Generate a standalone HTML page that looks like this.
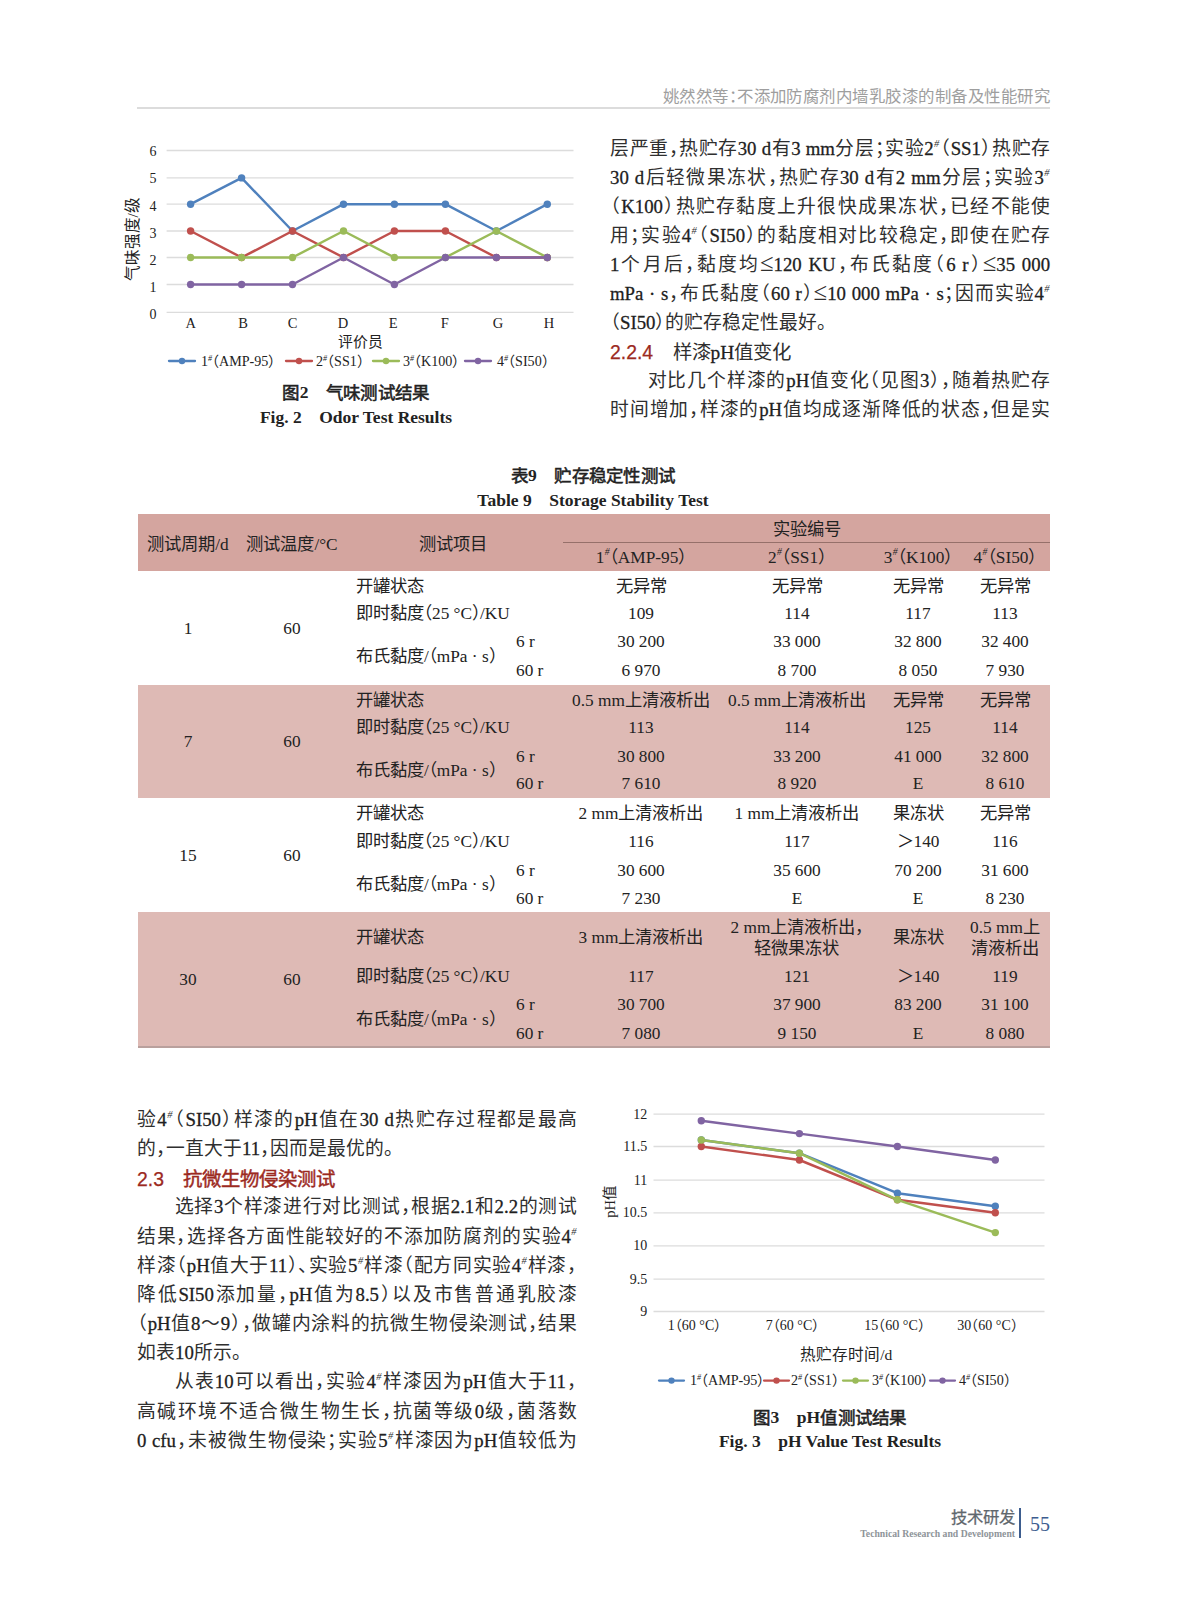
<!DOCTYPE html>
<html lang="zh-CN">
<head>
<meta charset="utf-8">
<title>page</title>
<style>
html,body{margin:0;padding:0;background:#fff;}
body{width:1187px;height:1600px;position:relative;overflow:hidden;font-family:"Liberation Serif",serif;color:#2f2f2f;font-feature-settings:"halt" 1;}
.ln{position:absolute;width:440px;height:29px;line-height:29px;font-size:18.8px;white-space:nowrap;text-align:justify;text-align-last:justify;}
.ln.e{text-align:left;text-align-last:left;}
.ln.i{text-indent:2em;}
sup{font-size:0.56em;line-height:0;vertical-align:0.75em;font-style:italic;margin:0 0.04em;}
.la{color:#202020;-webkit-text-stroke:0.28px #202020;}
.red .la,.red.la{color:#9c2a1f;-webkit-text-stroke:0.25px #9c2a1f;}
.le{font-size:1.32em;line-height:0;position:relative;top:0.03em;}
.hd{position:absolute;font-family:"Liberation Sans",sans-serif;font-size:16.45px;color:#9e9e9e;white-space:nowrap;letter-spacing:0.47px;}
.red{color:#9c2a1f;font-family:"Liberation Sans",sans-serif;}
.h2{font-size:19.4px;}
.sb{-webkit-text-stroke:0.45px #9c2a1f;}
.cap{position:absolute;text-align:center;font-weight:bold;white-space:nowrap;font-size:17.5px;line-height:24px;color:#222;}
.cap .cn{font-family:"Liberation Sans",sans-serif;position:relative;top:1px;font-weight:normal;-webkit-text-stroke:0.55px #222;letter-spacing:0.3px;}
.t{position:absolute;font-size:17.3px;line-height:24px;height:24px;white-space:nowrap;color:#222;}
.c{text-align:center;transform:translateX(-50%);}
.bg{position:absolute;left:138px;width:912px;}
svg{position:absolute;left:0;top:0;}
svg text{font-family:"Liberation Serif",serif;fill:#222;}
</style>
</head>
<body>
<div class="hd" style="right:137px;top:85px;line-height:22px;">姚然然等：不添加防腐剂内墙乳胶漆的制备及性能研究</div>
<div style="position:absolute;left:137px;top:107px;width:913px;height:2px;background:#dcdcdc;"></div>
<div class="ln " style="left:610px;top:133.5px;">层严重，热贮存<span class="la">30 d</span>有<span class="la">3 mm</span>分层；实验<span class="la">2</span><sup>#</sup>（<span class="la">SS1</span>）热贮存</div>
<div class="ln " style="left:610px;top:162.5px;"><span class="la">30 d</span>后轻微果冻状，热贮存<span class="la">30 d</span>有<span class="la">2 mm</span>分层；实验<span class="la">3</span><sup>#</sup></div>
<div class="ln " style="left:610px;top:191.5px;">（<span class="la">K100</span>）热贮存黏度上升很快成果冻状，已经不能使</div>
<div class="ln " style="left:610px;top:220.5px;">用；实验<span class="la">4</span><sup>#</sup>（<span class="la">SI50</span>）的黏度相对比较稳定，即使在贮存</div>
<div class="ln " style="left:610px;top:249.5px;"><span class="la">1</span>个月后，黏度均<span class="le">≤</span><span class="la">120 KU</span>，布氏黏度（<span class="la">6 r</span>）<span class="le">≤</span><span class="la">35 000</span></div>
<div class="ln " style="left:610px;top:278.5px;"><span class="la">mPa · s</span>，布氏黏度（<span class="la">60 r</span>）<span class="le">≤</span><span class="la">10 000 mPa · s</span>；因而实验<span class="la">4</span><sup>#</sup></div>
<div class="ln e" style="left:610px;top:307.5px;">（<span class="la">SI50</span>）的贮存稳定性最好。</div>
<div class="ln e" style="left:610px;top:337.5px;"><span class="h2"><span class="red"><span class="la">2.2.4</span></span>&emsp;样漆<span class="la">pH</span>值变化</span></div>
<div class="ln i" style="left:610px;top:365.5px;">对比几个样漆的<span class="la">pH</span>值变化（见图<span class="la">3</span>），随着热贮存</div>
<div class="ln " style="left:610px;top:394.5px;">时间增加，样漆的<span class="la">pH</span>值均成逐渐降低的状态，但是实</div>
<div class="ln " style="left:137px;top:1104.5px;">验<span class="la">4</span><sup>#</sup>（<span class="la">SI50</span>）样漆的<span class="la">pH</span>值在<span class="la">30 d</span>热贮存过程都是最高</div>
<div class="ln e" style="left:137px;top:1133.5px;">的，一直大于<span class="la">11</span>，因而是最优的。</div>
<div class="ln e" style="left:137px;top:1164.5px;"><span class="red h2"><span class="la">2.3</span>&emsp;<span class="sb">抗微生物侵染测试</span></span></div>
<div class="ln i" style="left:137px;top:1192.0px;">选择<span class="la">3</span>个样漆进行对比测试，根据<span class="la">2.1</span>和<span class="la">2.2</span>的测试</div>
<div class="ln " style="left:137px;top:1221.5px;">结果，选择各方面性能较好的不添加防腐剂的实验<span class="la">4</span><sup>#</sup></div>
<div class="ln " style="left:137px;top:1250.5px;">样漆（<span class="la">pH</span>值大于<span class="la">11</span>）、实验<span class="la">5</span><sup>#</sup>样漆（配方同实验<span class="la">4</span><sup>#</sup>样漆，</div>
<div class="ln " style="left:137px;top:1279.5px;">降低<span class="la">SI50</span>添加量，<span class="la">pH</span>值为<span class="la">8.5</span>）以及市售普通乳胶漆</div>
<div class="ln " style="left:137px;top:1308.5px;">（<span class="la">pH</span>值<span class="la">8</span>～<span class="la">9</span>），做罐内涂料的抗微生物侵染测试，结果</div>
<div class="ln e" style="left:137px;top:1337.5px;">如表<span class="la">10</span>所示。</div>
<div class="ln i" style="left:137px;top:1367.0px;">从表<span class="la">10</span>可以看出，实验<span class="la">4</span><sup>#</sup>样漆因为<span class="la">pH</span>值大于<span class="la">11</span>，</div>
<div class="ln " style="left:137px;top:1396.5px;">高碱环境不适合微生物生长，抗菌等级<span class="la">0</span>级，菌落数</div>
<div class="ln " style="left:137px;top:1425.5px;"><span class="la">0 cfu</span>，未被微生物侵染；实验<span class="la">5</span><sup>#</sup>样漆因为<span class="la">pH</span>值较低为</div>
<div class="cap" style="left:156px;width:400px;top:380.0px;"><span class="cn">图</span>2&emsp;<span class="cn">气味测试结果</span></div>
<div class="cap" style="left:156px;width:400px;top:405.0px;">Fig. 2&emsp;Odor Test Results</div>
<div class="cap" style="left:393px;width:400px;top:463.0px;"><span class="cn">表</span>9&emsp;<span class="cn">贮存稳定性测试</span></div>
<div class="cap" style="left:393px;width:400px;top:488.0px;">Table 9&emsp;Storage Stability Test</div>
<div class="cap" style="left:630px;width:400px;top:1405.0px;"><span class="cn">图</span>3&emsp;pH<span class="cn">值测试结果</span></div>
<div class="cap" style="left:630px;width:400px;top:1429.0px;">Fig. 3&emsp;pH Value Test Results</div>
<div class="bg" style="top:514px;height:57px;background:#d4a59f;"></div>
<div class="bg" style="top:685px;height:113px;background:#debab5;"></div>
<div class="bg" style="top:912px;height:135px;background:#debab5;"></div>
<div class="bg" style="top:1046px;height:2px;background:#b9a09d;"></div>
<div style="position:absolute;left:563px;top:542px;width:487px;height:1px;background:#96706a;"></div>
<div class="t c" style="left:188.0px;top:532.7px;">测试周期/d</div>
<div class="t c" style="left:292.0px;top:532.7px;">测试温度/°C</div>
<div class="t c" style="left:453.0px;top:532.7px;">测试项目</div>
<div class="t c" style="left:807.0px;top:517.7px;">实验编号</div>
<div class="t c" style="left:641.0px;top:545.6px;">1<sup>#</sup>（AMP-95）</div>
<div class="t c" style="left:797.0px;top:545.6px;">2<sup>#</sup>（SS1）</div>
<div class="t c" style="left:918.0px;top:545.6px;">3<sup>#</sup>（K100）</div>
<div class="t c" style="left:1005.0px;top:545.6px;">4<sup>#</sup>（SI50）</div>
<div class="t c" style="left:188.0px;top:616.9px;">1</div>
<div class="t c" style="left:292.0px;top:616.9px;">60</div>
<div class="t" style="left:356.0px;top:575.0px;">开罐状态</div>
<div class="t" style="left:356.0px;top:601.9px;">即时黏度（25 °C）/KU</div>
<div class="t" style="left:356.0px;top:644.9px;">布氏黏度/（mPa · s）</div>
<div class="t" style="left:516.0px;top:630.0px;">6 r</div>
<div class="t" style="left:516.0px;top:658.7px;">60 r</div>
<div class="t c" style="left:641.0px;top:575.0px;">无异常</div>
<div class="t c" style="left:797.0px;top:575.0px;">无异常</div>
<div class="t c" style="left:918.0px;top:575.0px;">无异常</div>
<div class="t c" style="left:1005.0px;top:575.0px;">无异常</div>
<div class="t c" style="left:641.0px;top:601.9px;">109</div>
<div class="t c" style="left:797.0px;top:601.9px;">114</div>
<div class="t c" style="left:918.0px;top:601.9px;">117</div>
<div class="t c" style="left:1005.0px;top:601.9px;">113</div>
<div class="t c" style="left:641.0px;top:630.0px;">30 200</div>
<div class="t c" style="left:797.0px;top:630.0px;">33 000</div>
<div class="t c" style="left:918.0px;top:630.0px;">32 800</div>
<div class="t c" style="left:1005.0px;top:630.0px;">32 400</div>
<div class="t c" style="left:641.0px;top:658.7px;">6 970</div>
<div class="t c" style="left:797.0px;top:658.7px;">8 700</div>
<div class="t c" style="left:918.0px;top:658.7px;">8 050</div>
<div class="t c" style="left:1005.0px;top:658.7px;">7 930</div>
<div class="t c" style="left:188.0px;top:730.4px;">7</div>
<div class="t c" style="left:292.0px;top:730.4px;">60</div>
<div class="t" style="left:356.0px;top:688.5px;">开罐状态</div>
<div class="t" style="left:356.0px;top:715.9px;">即时黏度（25 °C）/KU</div>
<div class="t" style="left:356.0px;top:759.0px;">布氏黏度/（mPa · s）</div>
<div class="t" style="left:516.0px;top:744.6px;">6 r</div>
<div class="t" style="left:516.0px;top:772.4px;">60 r</div>
<div class="t c" style="left:641.0px;top:688.5px;">0.5 mm上清液析出</div>
<div class="t c" style="left:797.0px;top:688.5px;">0.5 mm上清液析出</div>
<div class="t c" style="left:918.0px;top:688.5px;">无异常</div>
<div class="t c" style="left:1005.0px;top:688.5px;">无异常</div>
<div class="t c" style="left:641.0px;top:715.9px;">113</div>
<div class="t c" style="left:797.0px;top:715.9px;">114</div>
<div class="t c" style="left:918.0px;top:715.9px;">125</div>
<div class="t c" style="left:1005.0px;top:715.9px;">114</div>
<div class="t c" style="left:641.0px;top:744.6px;">30 800</div>
<div class="t c" style="left:797.0px;top:744.6px;">33 200</div>
<div class="t c" style="left:918.0px;top:744.6px;">41 000</div>
<div class="t c" style="left:1005.0px;top:744.6px;">32 800</div>
<div class="t c" style="left:641.0px;top:772.4px;">7 610</div>
<div class="t c" style="left:797.0px;top:772.4px;">8 920</div>
<div class="t c" style="left:918.0px;top:772.4px;">E</div>
<div class="t c" style="left:1005.0px;top:772.4px;">8 610</div>
<div class="t c" style="left:188.0px;top:844.4px;">15</div>
<div class="t c" style="left:292.0px;top:844.4px;">60</div>
<div class="t" style="left:356.0px;top:802.2px;">开罐状态</div>
<div class="t" style="left:356.0px;top:829.6px;">即时黏度（25 °C）/KU</div>
<div class="t" style="left:356.0px;top:873.1px;">布氏黏度/（mPa · s）</div>
<div class="t" style="left:516.0px;top:858.6px;">6 r</div>
<div class="t" style="left:516.0px;top:886.5px;">60 r</div>
<div class="t c" style="left:641.0px;top:802.2px;">2 mm上清液析出</div>
<div class="t c" style="left:797.0px;top:802.2px;">1 mm上清液析出</div>
<div class="t c" style="left:918.0px;top:802.2px;">果冻状</div>
<div class="t c" style="left:1005.0px;top:802.2px;">无异常</div>
<div class="t c" style="left:641.0px;top:829.6px;">116</div>
<div class="t c" style="left:797.0px;top:829.6px;">117</div>
<div class="t c" style="left:918.0px;top:829.6px;">＞140</div>
<div class="t c" style="left:1005.0px;top:829.6px;">116</div>
<div class="t c" style="left:641.0px;top:858.6px;">30 600</div>
<div class="t c" style="left:797.0px;top:858.6px;">35 600</div>
<div class="t c" style="left:918.0px;top:858.6px;">70 200</div>
<div class="t c" style="left:1005.0px;top:858.6px;">31 600</div>
<div class="t c" style="left:641.0px;top:886.5px;">7 230</div>
<div class="t c" style="left:797.0px;top:886.5px;">E</div>
<div class="t c" style="left:918.0px;top:886.5px;">E</div>
<div class="t c" style="left:1005.0px;top:886.5px;">8 230</div>
<div class="t c" style="left:188.0px;top:968.4px;">30</div>
<div class="t c" style="left:292.0px;top:968.4px;">60</div>
<div class="t" style="left:356.0px;top:926.3px;">开罐状态</div>
<div class="t" style="left:356.0px;top:965.4px;">即时黏度（25 °C）/KU</div>
<div class="t" style="left:356.0px;top:1008.0px;">布氏黏度/（mPa · s）</div>
<div class="t" style="left:516.0px;top:993.2px;">6 r</div>
<div class="t" style="left:516.0px;top:1021.8px;">60 r</div>
<div class="t c" style="left:641.0px;top:926.3px;">3 mm上清液析出</div>
<div class="t c" style="left:797.0px;top:917.2px;height:auto;line-height:21px;">2 mm上清液析出，<br>轻微果冻状</div>
<div class="t c" style="left:918.0px;top:926.3px;">果冻状</div>
<div class="t c" style="left:1005.0px;top:917.2px;height:auto;line-height:21px;">0.5 mm上<br>清液析出</div>
<div class="t c" style="left:641.0px;top:965.4px;">117</div>
<div class="t c" style="left:797.0px;top:965.4px;">121</div>
<div class="t c" style="left:918.0px;top:965.4px;">＞140</div>
<div class="t c" style="left:1005.0px;top:965.4px;">119</div>
<div class="t c" style="left:641.0px;top:993.2px;">30 700</div>
<div class="t c" style="left:797.0px;top:993.2px;">37 900</div>
<div class="t c" style="left:918.0px;top:993.2px;">83 200</div>
<div class="t c" style="left:1005.0px;top:993.2px;">31 100</div>
<div class="t c" style="left:641.0px;top:1021.8px;">7 080</div>
<div class="t c" style="left:797.0px;top:1021.8px;">9 150</div>
<div class="t c" style="left:918.0px;top:1021.8px;">E</div>
<div class="t c" style="left:1005.0px;top:1021.8px;">8 080</div>
<svg width="1187" height="1600" viewBox="0 0 1187 1600">
<line x1="166.6" x2="573.5" y1="312.3" y2="312.3" stroke="#dcdcdc" stroke-width="1.3"/>
<text x="153" y="319.2" font-size="14" text-anchor="middle">0</text>
<line x1="166.6" x2="573.5" y1="284.5" y2="284.5" stroke="#dcdcdc" stroke-width="1.3"/>
<text x="153" y="292.0" font-size="14" text-anchor="middle">1</text>
<line x1="166.6" x2="573.5" y1="257.5" y2="257.5" stroke="#dcdcdc" stroke-width="1.3"/>
<text x="153" y="264.8" font-size="14" text-anchor="middle">2</text>
<line x1="166.6" x2="573.5" y1="231.0" y2="231.0" stroke="#dcdcdc" stroke-width="1.3"/>
<text x="153" y="237.7" font-size="14" text-anchor="middle">3</text>
<line x1="166.6" x2="573.5" y1="204.2" y2="204.2" stroke="#dcdcdc" stroke-width="1.3"/>
<text x="153" y="210.5" font-size="14" text-anchor="middle">4</text>
<line x1="166.6" x2="573.5" y1="177.9" y2="177.9" stroke="#dcdcdc" stroke-width="1.3"/>
<text x="153" y="183.3" font-size="14" text-anchor="middle">5</text>
<line x1="166.6" x2="573.5" y1="150.5" y2="150.5" stroke="#dcdcdc" stroke-width="1.3"/>
<text x="153" y="156.1" font-size="14" text-anchor="middle">6</text>
<polyline points="190.6,204.2 241.6,177.9 292.5,231.0 343.5,204.2 394.4,204.2 445.4,204.2 496.4,231.0 547.3,204.2" fill="none" stroke="#4f81bd" stroke-width="2.45" stroke-linejoin="round" stroke-linecap="round"/>
<circle cx="190.6" cy="204.2" r="3.7" fill="#4f81bd"/>
<circle cx="241.6" cy="177.9" r="3.7" fill="#4f81bd"/>
<circle cx="292.5" cy="231.0" r="3.7" fill="#4f81bd"/>
<circle cx="343.5" cy="204.2" r="3.7" fill="#4f81bd"/>
<circle cx="394.4" cy="204.2" r="3.7" fill="#4f81bd"/>
<circle cx="445.4" cy="204.2" r="3.7" fill="#4f81bd"/>
<circle cx="496.4" cy="231.0" r="3.7" fill="#4f81bd"/>
<circle cx="547.3" cy="204.2" r="3.7" fill="#4f81bd"/>
<polyline points="190.6,231.0 241.6,257.5 292.5,231.0 343.5,257.5 394.4,231.0 445.4,231.0 496.4,257.5 547.3,257.5" fill="none" stroke="#c0504d" stroke-width="2.45" stroke-linejoin="round" stroke-linecap="round"/>
<circle cx="190.6" cy="231.0" r="3.7" fill="#c0504d"/>
<circle cx="241.6" cy="257.5" r="3.7" fill="#c0504d"/>
<circle cx="292.5" cy="231.0" r="3.7" fill="#c0504d"/>
<circle cx="343.5" cy="257.5" r="3.7" fill="#c0504d"/>
<circle cx="394.4" cy="231.0" r="3.7" fill="#c0504d"/>
<circle cx="445.4" cy="231.0" r="3.7" fill="#c0504d"/>
<circle cx="496.4" cy="257.5" r="3.7" fill="#c0504d"/>
<circle cx="547.3" cy="257.5" r="3.7" fill="#c0504d"/>
<polyline points="190.6,257.5 241.6,257.5 292.5,257.5 343.5,231.0 394.4,257.5 445.4,257.5 496.4,231.0 547.3,257.5" fill="none" stroke="#9bbb59" stroke-width="2.45" stroke-linejoin="round" stroke-linecap="round"/>
<circle cx="190.6" cy="257.5" r="3.7" fill="#9bbb59"/>
<circle cx="241.6" cy="257.5" r="3.7" fill="#9bbb59"/>
<circle cx="292.5" cy="257.5" r="3.7" fill="#9bbb59"/>
<circle cx="343.5" cy="231.0" r="3.7" fill="#9bbb59"/>
<circle cx="394.4" cy="257.5" r="3.7" fill="#9bbb59"/>
<circle cx="445.4" cy="257.5" r="3.7" fill="#9bbb59"/>
<circle cx="496.4" cy="231.0" r="3.7" fill="#9bbb59"/>
<circle cx="547.3" cy="257.5" r="3.7" fill="#9bbb59"/>
<polyline points="190.6,284.5 241.6,284.5 292.5,284.5 343.5,257.5 394.4,284.5 445.4,257.5 496.4,257.5 547.3,257.5" fill="none" stroke="#8064a2" stroke-width="2.45" stroke-linejoin="round" stroke-linecap="round"/>
<circle cx="190.6" cy="284.5" r="3.7" fill="#8064a2"/>
<circle cx="241.6" cy="284.5" r="3.7" fill="#8064a2"/>
<circle cx="292.5" cy="284.5" r="3.7" fill="#8064a2"/>
<circle cx="343.5" cy="257.5" r="3.7" fill="#8064a2"/>
<circle cx="394.4" cy="284.5" r="3.7" fill="#8064a2"/>
<circle cx="445.4" cy="257.5" r="3.7" fill="#8064a2"/>
<circle cx="496.4" cy="257.5" r="3.7" fill="#8064a2"/>
<circle cx="547.3" cy="257.5" r="3.7" fill="#8064a2"/>
<text x="190.8" y="327.7" font-size="14.5" text-anchor="middle">A</text>
<text x="243.2" y="327.7" font-size="14.5" text-anchor="middle">B</text>
<text x="292.7" y="327.7" font-size="14.5" text-anchor="middle">C</text>
<text x="343.0" y="327.7" font-size="14.5" text-anchor="middle">D</text>
<text x="393.2" y="327.7" font-size="14.5" text-anchor="middle">E</text>
<text x="444.9" y="327.7" font-size="14.5" text-anchor="middle">F</text>
<text x="498.0" y="327.7" font-size="14.5" text-anchor="middle">G</text>
<text x="548.9" y="327.7" font-size="14.5" text-anchor="middle">H</text>
<text x="360.5" y="346.5" font-size="14.8" text-anchor="middle">评价员</text>
<text transform="translate(137.5,239.3) rotate(-90)" font-size="15.6" text-anchor="middle">气味强度/级</text>
<line x1="169" x2="195" y1="361.0" y2="361.0" stroke="#4f81bd" stroke-width="2.3" stroke-linecap="round"/>
<circle cx="182.0" cy="361.0" r="3.2" fill="#4f81bd"/>
<text x="201" y="365.6" font-size="14.1">1<tspan dy="-5" font-size="8" font-style="italic">#</tspan><tspan dy="5">（AMP-95）</tspan></text>
<line x1="286" x2="312" y1="361.0" y2="361.0" stroke="#c0504d" stroke-width="2.3" stroke-linecap="round"/>
<circle cx="299.0" cy="361.0" r="3.2" fill="#c0504d"/>
<text x="316" y="365.6" font-size="14.1">2<tspan dy="-5" font-size="8" font-style="italic">#</tspan><tspan dy="5">（SS1）</tspan></text>
<line x1="373" x2="399" y1="361.0" y2="361.0" stroke="#9bbb59" stroke-width="2.3" stroke-linecap="round"/>
<circle cx="386.0" cy="361.0" r="3.2" fill="#9bbb59"/>
<text x="403" y="365.6" font-size="14.1">3<tspan dy="-5" font-size="8" font-style="italic">#</tspan><tspan dy="5">（K100）</tspan></text>
<line x1="465" x2="491" y1="361.0" y2="361.0" stroke="#8064a2" stroke-width="2.3" stroke-linecap="round"/>
<circle cx="478.0" cy="361.0" r="3.2" fill="#8064a2"/>
<text x="497" y="365.6" font-size="14.1">4<tspan dy="-5" font-size="8" font-style="italic">#</tspan><tspan dy="5">（SI50）</tspan></text>
<line x1="653.5" x2="1044.5" y1="1311.5" y2="1311.5" stroke="#dcdcdc" stroke-width="1.3"/>
<text x="647.3" y="1316.1" font-size="14" text-anchor="end">9</text>
<line x1="653.5" x2="1044.5" y1="1279.2" y2="1279.2" stroke="#dcdcdc" stroke-width="1.3"/>
<text x="647.3" y="1283.8" font-size="14" text-anchor="end">9.5</text>
<line x1="653.5" x2="1044.5" y1="1245.8" y2="1245.8" stroke="#dcdcdc" stroke-width="1.3"/>
<text x="647.3" y="1250.4" font-size="14" text-anchor="end">10</text>
<line x1="653.5" x2="1044.5" y1="1212.8" y2="1212.8" stroke="#dcdcdc" stroke-width="1.3"/>
<text x="647.3" y="1217.4" font-size="14" text-anchor="end">10.5</text>
<line x1="653.5" x2="1044.5" y1="1180.2" y2="1180.2" stroke="#dcdcdc" stroke-width="1.3"/>
<text x="647.3" y="1184.8" font-size="14" text-anchor="end">11</text>
<line x1="653.5" x2="1044.5" y1="1146.5" y2="1146.5" stroke="#dcdcdc" stroke-width="1.3"/>
<text x="647.3" y="1151.1" font-size="14" text-anchor="end">11.5</text>
<line x1="653.5" x2="1044.5" y1="1114.2" y2="1114.2" stroke="#dcdcdc" stroke-width="1.3"/>
<text x="647.3" y="1118.8" font-size="14" text-anchor="end">12</text>
<polyline points="701.3,1140.0 799.4,1153.2 897.4,1193.2 995.3,1206.3" fill="none" stroke="#4f81bd" stroke-width="2.45" stroke-linejoin="round" stroke-linecap="round"/>
<circle cx="701.3" cy="1140.0" r="3.7" fill="#4f81bd"/>
<circle cx="799.4" cy="1153.2" r="3.7" fill="#4f81bd"/>
<circle cx="897.4" cy="1193.2" r="3.7" fill="#4f81bd"/>
<circle cx="995.3" cy="1206.3" r="3.7" fill="#4f81bd"/>
<polyline points="701.3,1146.5 799.4,1160.0 897.4,1199.8 995.3,1212.8" fill="none" stroke="#c0504d" stroke-width="2.45" stroke-linejoin="round" stroke-linecap="round"/>
<circle cx="701.3" cy="1146.5" r="3.7" fill="#c0504d"/>
<circle cx="799.4" cy="1160.0" r="3.7" fill="#c0504d"/>
<circle cx="897.4" cy="1199.8" r="3.7" fill="#c0504d"/>
<circle cx="995.3" cy="1212.8" r="3.7" fill="#c0504d"/>
<polyline points="701.3,1140.0 799.4,1153.2 897.4,1199.8 995.3,1232.6" fill="none" stroke="#9bbb59" stroke-width="2.45" stroke-linejoin="round" stroke-linecap="round"/>
<circle cx="701.3" cy="1140.0" r="3.7" fill="#9bbb59"/>
<circle cx="799.4" cy="1153.2" r="3.7" fill="#9bbb59"/>
<circle cx="897.4" cy="1199.8" r="3.7" fill="#9bbb59"/>
<circle cx="995.3" cy="1232.6" r="3.7" fill="#9bbb59"/>
<polyline points="701.3,1120.7 799.4,1133.6 897.4,1146.5 995.3,1160.0" fill="none" stroke="#8064a2" stroke-width="2.45" stroke-linejoin="round" stroke-linecap="round"/>
<circle cx="701.3" cy="1120.7" r="3.7" fill="#8064a2"/>
<circle cx="799.4" cy="1133.6" r="3.7" fill="#8064a2"/>
<circle cx="897.4" cy="1146.5" r="3.7" fill="#8064a2"/>
<circle cx="995.3" cy="1160.0" r="3.7" fill="#8064a2"/>
<text x="694.5" y="1330.4" font-size="14" text-anchor="middle">1（60 °C）</text>
<text x="792.5" y="1330.4" font-size="14" text-anchor="middle">7（60 °C）</text>
<text x="894.5" y="1330.4" font-size="14" text-anchor="middle">15（60 °C）</text>
<text x="987.5" y="1330.4" font-size="14" text-anchor="middle">30（60 °C）</text>
<text x="846.2" y="1360.3" font-size="15.6" text-anchor="middle">热贮存时间/d</text>
<text transform="translate(615,1202) rotate(-90)" font-size="14.5" text-anchor="middle">pH值</text>
<line x1="659" x2="684" y1="1380.6" y2="1380.6" stroke="#4f81bd" stroke-width="2.3" stroke-linecap="round"/>
<circle cx="671.5" cy="1380.6" r="3.2" fill="#4f81bd"/>
<text x="690" y="1385.2" font-size="14.1">1<tspan dy="-5" font-size="8" font-style="italic">#</tspan><tspan dy="5">（AMP-95）</tspan></text>
<line x1="764" x2="789" y1="1380.6" y2="1380.6" stroke="#c0504d" stroke-width="2.3" stroke-linecap="round"/>
<circle cx="776.5" cy="1380.6" r="3.2" fill="#c0504d"/>
<text x="791" y="1385.2" font-size="14.1">2<tspan dy="-5" font-size="8" font-style="italic">#</tspan><tspan dy="5">（SS1）</tspan></text>
<line x1="843" x2="868" y1="1380.6" y2="1380.6" stroke="#9bbb59" stroke-width="2.3" stroke-linecap="round"/>
<circle cx="855.5" cy="1380.6" r="3.2" fill="#9bbb59"/>
<text x="872" y="1385.2" font-size="14.1">3<tspan dy="-5" font-size="8" font-style="italic">#</tspan><tspan dy="5">（K100）</tspan></text>
<line x1="930" x2="955" y1="1380.6" y2="1380.6" stroke="#8064a2" stroke-width="2.3" stroke-linecap="round"/>
<circle cx="942.5" cy="1380.6" r="3.2" fill="#8064a2"/>
<text x="959" y="1385.2" font-size="14.1">4<tspan dy="-5" font-size="8" font-style="italic">#</tspan><tspan dy="5">（SI50）</tspan></text>
</svg>
<div style="position:absolute;right:172px;top:1506px;font-family:'Liberation Sans',sans-serif;font-size:16.4px;line-height:22px;color:#5f676d;-webkit-text-stroke:0.25px #5f676d;white-space:nowrap;">技术研发</div>
<div style="position:absolute;right:172px;top:1528px;font-weight:bold;font-size:9.7px;line-height:12px;color:#8e9499;white-space:nowrap;">Technical Research and Development</div>
<div style="position:absolute;left:1019px;top:1508px;width:2px;height:30px;background:#3d5d8f;"></div>
<div style="position:absolute;left:1030px;top:1511px;font-size:20px;line-height:26px;color:#3d5d8f;">55</div>
</body>
</html>
